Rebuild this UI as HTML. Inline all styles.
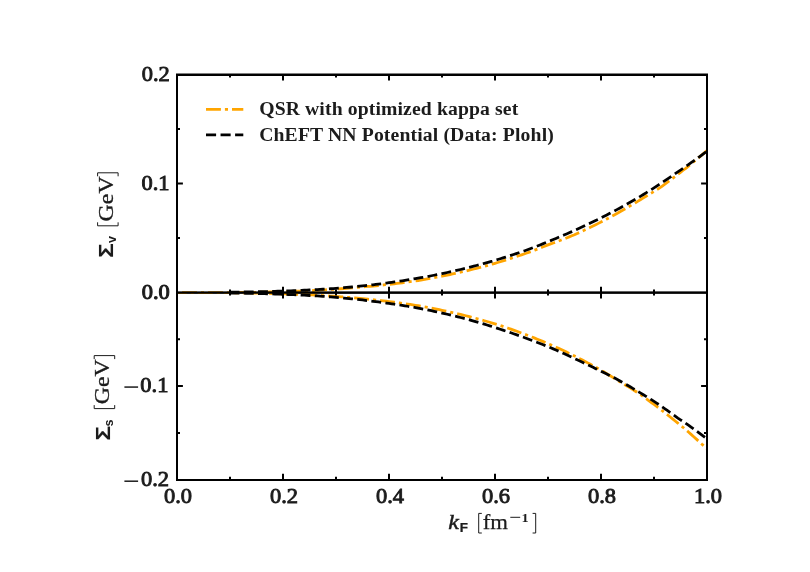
<!DOCTYPE html>
<html><head><meta charset="utf-8"><title>plot</title>
<style>
html,body{margin:0;padding:0;background:#fff;}
svg{display:block;will-change:transform;}
text{font-family:"Liberation Serif",serif;fill:#1c1c1c;}
.tk{font-weight:normal;font-size:21.2px;stroke:#1c1c1c;stroke-width:0.9px;}
.lg{font-weight:bold;font-size:19.7px;}
</style></head><body>
<svg width="810" height="572" viewBox="0 0 810 572">
<rect width="810" height="572" fill="#fff"/>
<defs>
<clipPath id="ct"><rect x="177.0" y="74.6" width="530.0" height="218.00000000000003"/></clipPath>
<clipPath id="cb"><rect x="177.0" y="292.6" width="530.0" height="187.04999999999995"/></clipPath>
</defs>

<g clip-path="url(#ct)" fill="none" stroke-width="2.78">
<path d="M177.00,292.60 L179.65,292.61 L182.30,292.61 L184.95,292.62 L187.60,292.63 L190.25,292.63 L192.90,292.64 L195.55,292.65 L198.20,292.65 L200.85,292.65 L203.50,292.65 L206.15,292.66 L208.80,292.65 L211.45,292.65 L214.10,292.65 L216.75,292.64 L219.40,292.64 L222.05,292.63 L224.70,292.62 L227.35,292.60 L230.00,292.59 L232.65,292.57 L235.30,292.55 L237.95,292.53 L240.60,292.50 L243.25,292.47 L245.90,292.44 L248.55,292.41 L251.20,292.37 L253.85,292.33 L256.50,292.29 L259.15,292.24 L261.80,292.19 L264.45,292.13 L267.10,292.07 L269.75,292.01 L272.40,291.94 L275.05,291.87 L277.70,291.79 L280.35,291.71 L283.00,291.63 L285.65,291.56 L288.30,291.48 L290.95,291.40 L293.60,291.31 L296.25,291.21 L298.90,291.12 L301.55,291.01 L304.20,290.90 L306.85,290.79 L309.50,290.67 L312.15,290.54 L314.80,290.41 L317.45,290.28 L320.10,290.13 L322.75,289.98 L325.40,289.83 L328.05,289.67 L330.70,289.50 L333.35,289.32 L336.00,289.14 L338.65,288.95 L341.30,288.76 L343.95,288.56 L346.60,288.35 L349.25,288.13 L351.90,287.91 L354.55,287.68 L357.20,287.44 L359.85,287.19 L362.50,286.94 L365.15,286.72 L367.80,286.49 L370.45,286.26 L373.10,286.01 L375.75,285.76 L378.40,285.50 L381.05,285.23 L383.70,284.95 L386.35,284.67 L389.00,284.37 L391.65,284.07 L394.30,283.76 L396.95,283.44 L399.60,283.11 L402.25,282.77 L404.90,282.42 L407.55,282.06 L410.20,281.70 L412.85,281.32 L415.50,280.93 L418.15,280.54 L420.80,280.13 L423.45,279.68 L426.10,279.21 L428.75,278.73 L431.40,278.25 L434.05,277.75 L436.70,277.24 L439.35,276.73 L442.00,276.20 L444.65,275.66 L447.30,275.11 L449.95,274.55 L452.60,273.98 L455.25,273.40 L457.90,272.81 L460.55,272.20 L463.20,271.59 L465.85,270.96 L468.50,270.33 L471.15,269.68 L473.80,269.02 L476.45,268.35 L479.10,267.67 L481.75,266.97 L484.40,266.27 L487.05,265.55 L489.70,264.82 L492.35,264.08 L495.00,263.32 L497.65,262.53 L500.30,261.73 L502.95,260.92 L505.60,260.10 L508.25,259.26 L510.90,258.41 L513.55,257.55 L516.20,256.67 L518.85,255.78 L521.50,254.88 L524.15,253.97 L526.80,253.04 L529.45,252.07 L532.10,251.08 L534.75,250.08 L537.40,249.07 L540.05,248.04 L542.70,247.00 L545.35,245.95 L548.00,244.88 L550.65,243.93 L553.30,242.96 L555.95,241.98 L558.60,240.99 L561.25,239.99 L563.90,238.97 L566.55,237.93 L569.20,236.88 L571.85,235.82 L574.50,234.75 L577.15,233.54 L579.80,232.33 L582.45,231.09 L585.10,229.85 L587.75,228.59 L590.40,227.31 L593.05,226.02 L595.70,224.72 L598.35,223.37 L601.00,222.00 L603.65,220.62 L606.30,219.22 L608.95,217.81 L611.60,216.38 L614.25,214.94 L616.90,213.48 L619.55,211.94 L622.20,210.45 L624.85,208.94 L627.50,207.41 L630.15,205.87 L632.80,204.31 L635.45,202.74 L638.10,201.15 L640.75,199.55 L643.40,197.93 L646.05,196.29 L648.70,194.69 L651.35,193.08 L654.00,191.46 L656.65,189.81 L659.30,188.15 L661.95,186.26 L664.60,184.34 L667.25,182.41 L669.90,180.47 L672.55,178.46 L675.20,176.44 L677.85,174.40 L680.50,172.34 L683.15,170.27 L685.80,168.29 L688.45,166.13 L691.10,163.96 L693.75,161.76 L696.40,159.55 L699.05,157.32 L701.70,155.08 L704.35,152.82 L707.00,150.54" stroke="#ffa500" stroke-dasharray="14.91 4.0 3.1 4.0" stroke-dashoffset="20.97"/>
<path d="M230.00,292.19 L232.65,292.16 L235.30,292.13 L237.95,292.10 L240.60,292.06 L243.25,292.02 L245.90,291.98 L248.55,291.94 L251.20,291.89 L253.85,291.84 L256.50,291.79 L259.15,291.73 L261.80,291.67 L264.45,291.60 L267.10,291.53 L269.75,291.46 L272.40,291.38 L275.05,291.30 L277.70,291.21 L280.35,291.12 L283.00,291.03 L285.65,290.95 L288.30,290.86 L290.95,290.77 L293.60,290.67 L296.25,290.57 L298.90,290.47 L301.55,290.35 L304.20,290.24 L306.85,290.11 L309.50,289.99 L312.15,289.85 L314.80,289.71 L317.45,289.57 L320.10,289.42 L322.75,289.26 L325.40,289.09 L328.05,288.92 L330.70,288.75 L333.35,288.57 L336.00,288.38 L338.65,288.16 L341.30,287.95 L343.95,287.72 L346.60,287.49 L349.25,287.25 L351.90,287.00 L354.55,286.75 L357.20,286.49 L359.85,286.22 L362.50,285.94 L365.15,285.66 L367.80,285.37 L370.45,285.07 L373.10,284.76 L375.75,284.44 L378.40,284.12 L381.05,283.78 L383.70,283.44 L386.35,283.09 L389.00,282.74 L391.65,282.37 L394.30,281.99 L396.95,281.61 L399.60,281.22 L402.25,280.81 L404.90,280.40 L407.55,279.98 L410.20,279.55 L412.85,279.11 L415.50,278.66 L418.15,278.20 L420.80,277.73 L423.45,277.26 L426.10,276.77 L428.75,276.27 L431.40,275.76 L434.05,275.24 L436.70,274.72 L439.35,274.18 L442.00,273.63 L444.65,273.07 L447.30,272.50 L449.95,271.92 L452.60,271.32 L455.25,270.72 L457.90,270.11 L460.55,269.48 L463.20,268.85 L465.85,268.20 L468.50,267.54 L471.15,266.87 L473.80,266.19 L476.45,265.50 L479.10,264.79 L481.75,264.08 L484.40,263.35 L487.05,262.61 L489.70,261.86 L492.35,261.10 L495.00,260.32 L497.65,259.53 L500.30,258.73 L502.95,257.92 L505.60,257.10 L508.25,256.26 L510.90,255.41 L513.55,254.55 L516.20,253.67 L518.85,252.78 L521.50,251.88 L524.15,250.97 L526.80,250.04 L529.45,249.05 L532.10,248.05 L534.75,247.03 L537.40,246.00 L540.05,244.96 L542.70,243.90 L545.35,242.83 L548.00,241.75 L550.65,240.65 L553.30,239.54 L555.95,238.41 L558.60,237.27 L561.25,236.17 L563.90,235.05 L566.55,233.92 L569.20,232.77 L571.85,231.61 L574.50,230.44 L577.15,229.25 L579.80,228.05 L582.45,226.83 L585.10,225.59 L587.75,224.35 L590.40,223.09 L593.05,221.81 L595.70,220.52 L598.35,219.21 L601.00,217.89 L603.65,216.55 L606.30,215.20 L608.95,213.83 L611.60,212.45 L614.25,211.05 L616.90,209.63 L619.55,208.21 L622.20,206.76 L624.85,205.30 L627.50,203.82 L630.15,202.33 L632.80,200.82 L635.45,199.30 L638.10,197.76 L640.75,196.15 L643.40,194.53 L646.05,192.88 L648.70,191.23 L651.35,189.55 L654.00,187.86 L656.65,186.14 L659.30,184.40 L661.95,182.65 L664.60,180.88 L667.25,179.09 L669.90,177.29 L672.55,175.47 L675.20,173.64 L677.85,171.82 L680.50,170.03 L683.15,168.23 L685.80,166.41 L688.45,164.57 L691.10,162.72 L693.75,160.85 L696.40,158.96 L699.05,157.06 L701.70,155.13 L704.35,153.19 L707.00,151.24" stroke="#000" stroke-dasharray="9.87 4.33" stroke-dashoffset="0.39"/>
</g>
<g stroke="#000" stroke-width="2.0" fill="none">
<path d="M230.00,292.6 v-3.0 M230.00,74.6 v3.0"/>
<path d="M283.00,292.6 v-5.9 M283.00,74.6 v5.9"/>
<path d="M336.00,292.6 v-3.0 M336.00,74.6 v3.0"/>
<path d="M389.00,292.6 v-5.9 M389.00,74.6 v5.9"/>
<path d="M442.00,292.6 v-3.0 M442.00,74.6 v3.0"/>
<path d="M495.00,292.6 v-5.9 M495.00,74.6 v5.9"/>
<path d="M548.00,292.6 v-3.0 M548.00,74.6 v3.0"/>
<path d="M601.00,292.6 v-5.9 M601.00,74.6 v5.9"/>
<path d="M654.00,292.6 v-3.0 M654.00,74.6 v3.0"/>
<path d="M177.0,183.60 h5.9 M707.0,183.60 h-5.9"/>
<path d="M177.0,129.10 h3.0 M707.0,129.10 h-3.0"/>
<path d="M177.0,238.10 h3.0 M707.0,238.10 h-3.0"/>
</g>
<path d="M177.0,74 V293.44000000000005 M707.0,74 V293.44000000000005 M176.0,292.40000000000003 H708.0" fill="none" stroke="#000" stroke-width="2"/><path d="M176.0,74.8 H708.0" fill="none" stroke="#000" stroke-width="2.4"/>
<g clip-path="url(#cb)" fill="none" stroke-width="2.78">
<path d="M177.00,292.60 L179.65,292.60 L182.30,292.59 L184.95,292.59 L187.60,292.58 L190.25,292.58 L192.90,292.58 L195.55,292.58 L198.20,292.58 L200.85,292.58 L203.50,292.58 L206.15,292.58 L208.80,292.59 L211.45,292.60 L214.10,292.60 L216.75,292.62 L219.40,292.63 L222.05,292.64 L224.70,292.66 L227.35,292.68 L230.00,292.70 L232.65,292.72 L235.30,292.75 L237.95,292.78 L240.60,292.81 L243.25,292.85 L245.90,292.89 L248.55,292.93 L251.20,292.98 L253.85,293.03 L256.50,293.08 L259.15,293.14 L261.80,293.20 L264.45,293.27 L267.10,293.34 L269.75,293.42 L272.40,293.50 L275.05,293.58 L277.70,293.67 L280.35,293.76 L283.00,293.86 L285.65,293.93 L288.30,294.01 L290.95,294.09 L293.60,294.18 L296.25,294.27 L298.90,294.37 L301.55,294.47 L304.20,294.58 L306.85,294.70 L309.50,294.82 L312.15,294.95 L314.80,295.08 L317.45,295.23 L320.10,295.37 L322.75,295.53 L325.40,295.69 L328.05,295.86 L330.70,296.03 L333.35,296.21 L336.00,296.40 L338.65,296.60 L341.30,296.80 L343.95,297.01 L346.60,297.23 L349.25,297.46 L351.90,297.69 L354.55,297.93 L357.20,298.18 L359.85,298.44 L362.50,298.71 L365.15,298.95 L367.80,299.21 L370.45,299.47 L373.10,299.74 L375.75,300.02 L378.40,300.31 L381.05,300.61 L383.70,300.91 L386.35,301.23 L389.00,301.55 L391.65,301.89 L394.30,302.23 L396.95,302.58 L399.60,302.94 L402.25,303.32 L404.90,303.70 L407.55,304.09 L410.20,304.49 L412.85,304.90 L415.50,305.32 L418.15,305.73 L420.80,306.15 L423.45,306.63 L426.10,307.12 L428.75,307.62 L431.40,308.13 L434.05,308.65 L436.70,309.19 L439.35,309.73 L442.00,310.28 L444.65,310.85 L447.30,311.42 L449.95,312.01 L452.60,312.61 L455.25,313.21 L457.90,313.83 L460.55,314.46 L463.20,315.11 L465.85,315.76 L468.50,316.42 L471.15,317.12 L473.80,317.82 L476.45,318.53 L479.10,319.26 L481.75,320.00 L484.40,320.75 L487.05,321.51 L489.70,322.28 L492.35,323.07 L495.00,323.87 L497.65,324.68 L500.30,325.50 L502.95,326.39 L505.60,327.30 L508.25,328.22 L510.90,329.15 L513.55,330.10 L516.20,331.06 L518.85,332.03 L521.50,333.01 L524.15,334.00 L526.80,335.01 L529.45,336.03 L532.10,337.07 L534.75,338.12 L537.40,339.18 L540.05,340.25 L542.70,341.37 L545.35,342.50 L548.00,343.64 L550.65,344.80 L553.30,345.97 L555.95,347.16 L558.60,348.35 L561.25,349.59 L563.90,350.85 L566.55,352.12 L569.20,353.40 L571.85,354.69 L574.50,356.00 L577.15,357.32 L579.80,358.66 L582.45,360.04 L585.10,361.45 L587.75,362.86 L590.40,364.29 L593.05,365.73 L595.70,367.19 L598.35,368.66 L601.00,370.15 L603.65,371.74 L606.30,373.34 L608.95,374.96 L611.60,376.60 L614.25,378.24 L616.90,379.91 L619.55,381.58 L622.20,383.13 L624.85,384.68 L627.50,386.25 L630.15,387.90 L632.80,389.57 L635.45,391.25 L638.10,392.95 L640.75,394.75 L643.40,396.72 L646.05,398.64 L648.70,400.57 L651.35,402.52 L654.00,404.48 L656.65,406.46 L659.30,408.45 L661.95,410.51 L664.60,412.58 L667.25,414.67 L669.90,416.77 L672.55,418.89 L675.20,421.02 L677.85,423.17 L680.50,425.33 L683.15,427.48 L685.80,429.65 L688.45,432.00 L691.10,434.36 L693.75,436.74 L696.40,439.13 L699.05,441.54 L701.70,443.97 L704.35,446.29 L707.00,448.63" stroke="#ffa500" stroke-dasharray="14.94 4.01 3.11 4.01" stroke-dashoffset="5.2"/>
<path d="M230.00,293.03 L232.65,293.06 L235.30,293.10 L237.95,293.13 L240.60,293.17 L243.25,293.22 L245.90,293.26 L248.55,293.31 L251.20,293.37 L253.85,293.42 L256.50,293.48 L259.15,293.55 L261.80,293.62 L264.45,293.69 L267.10,293.77 L269.75,293.85 L272.40,293.94 L275.05,294.03 L277.70,294.12 L280.35,294.22 L283.00,294.33 L285.65,294.42 L288.30,294.52 L290.95,294.62 L293.60,294.73 L296.25,294.85 L298.90,294.97 L301.55,295.09 L304.20,295.22 L306.85,295.36 L309.50,295.50 L312.15,295.65 L314.80,295.81 L317.45,295.97 L320.10,296.14 L322.75,296.32 L325.40,296.50 L328.05,296.69 L330.70,296.89 L333.35,297.09 L336.00,297.30 L338.65,297.53 L341.30,297.78 L343.95,298.02 L346.60,298.28 L349.25,298.54 L351.90,298.81 L354.55,299.09 L357.20,299.38 L359.85,299.67 L362.50,299.97 L365.15,300.29 L367.80,300.60 L370.45,300.93 L373.10,301.27 L375.75,301.61 L378.40,301.97 L381.05,302.33 L383.70,302.70 L386.35,303.08 L389.00,303.47 L391.65,303.84 L394.30,304.22 L396.95,304.60 L399.60,305.00 L402.25,305.41 L404.90,305.82 L407.55,306.25 L410.20,306.68 L412.85,307.13 L415.50,307.58 L418.15,308.08 L420.80,308.59 L423.45,309.11 L426.10,309.64 L428.75,310.18 L431.40,310.73 L434.05,311.29 L436.70,311.87 L439.35,312.45 L442.00,313.04 L444.65,313.65 L447.30,314.26 L449.95,314.89 L452.60,315.53 L455.25,316.17 L457.90,316.83 L460.55,317.50 L463.20,318.19 L465.85,318.88 L468.50,319.58 L471.15,320.32 L473.80,321.08 L476.45,321.84 L479.10,322.61 L481.75,323.40 L484.40,324.20 L487.05,325.01 L489.70,325.83 L492.35,326.67 L495.00,327.51 L497.65,328.37 L500.30,329.24 L502.95,330.13 L505.60,331.02 L508.25,331.91 L510.90,332.80 L513.55,333.71 L516.20,334.64 L518.85,335.57 L521.50,336.52 L524.15,337.48 L526.80,338.45 L529.45,339.44 L532.10,340.44 L534.75,341.45 L537.40,342.48 L540.05,343.51 L542.70,344.57 L545.35,345.63 L548.00,346.71 L550.65,347.80 L553.30,348.90 L555.95,350.02 L558.60,351.15 L561.25,352.36 L563.90,353.58 L566.55,354.82 L569.20,356.06 L571.85,357.32 L574.50,358.60 L577.15,359.81 L579.80,361.03 L582.45,362.27 L585.10,363.52 L587.75,364.79 L590.40,366.07 L593.05,367.36 L595.70,368.67 L598.35,369.94 L601.00,371.22 L603.65,372.52 L606.30,373.84 L608.95,375.16 L611.60,376.51 L614.25,377.86 L616.90,379.24 L619.55,380.72 L622.20,382.22 L624.85,383.74 L627.50,385.26 L630.15,386.81 L632.80,388.37 L635.45,389.94 L638.10,391.53 L640.75,393.12 L643.40,394.74 L646.05,396.36 L648.70,398.01 L651.35,399.66 L654.00,401.33 L656.65,403.12 L659.30,404.91 L661.95,406.73 L664.60,408.56 L667.25,410.41 L669.90,412.30 L672.55,414.20 L675.20,416.11 L677.85,418.04 L680.50,419.81 L683.15,421.59 L685.80,423.38 L688.45,425.19 L691.10,427.09 L693.75,429.02 L696.40,430.97 L699.05,432.94 L701.70,434.92 L704.35,436.92 L707.00,438.93" stroke="#000" stroke-dasharray="9.87 4.33" stroke-dashoffset="0.34"/>
</g>
<g stroke="#000" stroke-width="2.0" fill="none">
<path d="M230.00,479.65 v-3.0 M230.00,292.6 v3.0"/>
<path d="M283.00,479.65 v-5.9 M283.00,292.6 v5.9"/>
<path d="M336.00,479.65 v-3.0 M336.00,292.6 v3.0"/>
<path d="M389.00,479.65 v-5.9 M389.00,292.6 v5.9"/>
<path d="M442.00,479.65 v-3.0 M442.00,292.6 v3.0"/>
<path d="M495.00,479.65 v-5.9 M495.00,292.6 v5.9"/>
<path d="M548.00,479.65 v-3.0 M548.00,292.6 v3.0"/>
<path d="M601.00,479.65 v-5.9 M601.00,292.6 v5.9"/>
<path d="M654.00,479.65 v-3.0 M654.00,292.6 v3.0"/>
<path d="M177.0,386.12 h5.9 M707.0,386.12 h-5.9"/>
<path d="M177.0,339.36 h3.0 M707.0,339.36 h-3.0"/>
<path d="M177.0,432.89 h3.0 M707.0,432.89 h-3.0"/>
</g>
<path d="M177.0,291.81 V481 M707.0,291.81 V481 M176.0,292.85 H708.0 M176.0,480 H708.0" fill="none" stroke="#000" stroke-width="2"/>
<path d="M206,109.4 H243.3" stroke="#ffa500" stroke-width="2.78" stroke-dasharray="14.9 4.0 3.1 4.0" fill="none"/>
<path d="M206,134.9 H243.3" stroke="#000" stroke-width="2.78" stroke-dasharray="10.1 4.45" fill="none"/>
<text class="lg" x="259.2" y="115.0" textLength="259" lengthAdjust="spacing">QSR with optimized kappa set</text>
<text class="lg" x="259.2" y="140.5" textLength="294.6" lengthAdjust="spacing">ChEFT NN Potential (Data: Plohl)</text>
<text class="tk" transform="translate(169.8,80.70) scale(1.06,1)" text-anchor="end">0.2</text>
<text class="tk" transform="translate(169.5,189.70) scale(1.06,1)" text-anchor="end">0.1</text>
<text class="tk" style="stroke-width:1.05px" transform="translate(169.8,298.90) scale(1.06,1)" text-anchor="end">0.0</text>
<path d="M124.4,387.07 H138.1" stroke="#1c1c1c" stroke-width="1.5" fill="none"/><text class="tk" transform="translate(168.4,391.82) scale(1.06,1)" text-anchor="end">0.1</text>
<path d="M124.4,481.20 H138.1" stroke="#1c1c1c" stroke-width="1.5" fill="none"/><text class="tk" transform="translate(169.0,485.95) scale(1.06,1)" text-anchor="end">0.2</text>
<text class="tk" transform="translate(178.00,502.8) scale(1.06,1)" text-anchor="middle">0.0</text>
<text class="tk" transform="translate(284.00,502.8) scale(1.06,1)" text-anchor="middle">0.2</text>
<text class="tk" transform="translate(390.00,502.8) scale(1.06,1)" text-anchor="middle">0.4</text>
<text class="tk" transform="translate(496.00,502.8) scale(1.06,1)" text-anchor="middle">0.6</text>
<text class="tk" transform="translate(602.00,502.8) scale(1.06,1)" text-anchor="middle">0.8</text>
<text class="tk" transform="translate(708.00,502.8) scale(1.06,1)" text-anchor="middle">1.0</text>
<text transform="translate(448.2,528.5) scale(1.14,1)" style="font-style:italic;font-size:21px;stroke:#1c1c1c;stroke-width:0.45px">k</text>
<text transform="translate(459.7,531.5) scale(1.12,1)" style="font-family:'Liberation Sans',sans-serif;font-weight:bold;font-size:12px;stroke:#1c1c1c;stroke-width:0.25px">F</text>
<path d="M481.8,513.4 H478.7 V533.0 H481.8 M532.6,513.4 H535.7 V533.0 H532.6" stroke="#1c1c1c" stroke-width="1.0" fill="none"/>
<text x="482.8" y="528.5" style="font-size:21px;stroke:#1c1c1c;stroke-width:0.25px" textLength="25.2" lengthAdjust="spacingAndGlyphs">fm</text>
<path d="M510.3,517.3 H520.2" stroke="#1c1c1c" stroke-width="1.0" fill="none"/>
<text transform="translate(521.5,522.3) scale(1.15,1)" style="font-size:12.5px;font-weight:bold">1</text>
<g transform="translate(113.4,257.7) rotate(-90)"><text transform="scale(1.2,1.04)" x="0" y="0" style="font-family:'Liberation Sans',sans-serif;font-weight:bold;font-size:20px;stroke:#1c1c1c;stroke-width:0.1px">Σ</text><text x="14.7" y="2.7" style="font-family:'Liberation Sans',sans-serif;font-weight:bold;font-size:12.5px">v</text><text x="36.3" y="-0.7" style="font-size:21.8px;stroke:#1c1c1c;stroke-width:0.3px" textLength="45" lengthAdjust="spacingAndGlyphs">GeV</text></g><path d="M97.60000000000001,222.29999999999998 V225.79999999999998 H118.10000000000001 V222.29999999999998 M97.60000000000001,176.29999999999998 V172.79999999999998 H118.10000000000001 V176.29999999999998" stroke="#1c1c1c" stroke-width="1.0" fill="none"/>
<g transform="translate(110.0,440.5) rotate(-90)"><text transform="scale(1.2,1.04)" x="0" y="0" style="font-family:'Liberation Sans',sans-serif;font-weight:bold;font-size:20px;stroke:#1c1c1c;stroke-width:0.1px">Σ</text><text x="13.9" y="2.6" style="font-family:'Liberation Sans',sans-serif;font-weight:bold;font-size:12.5px">s</text><text x="36.3" y="-0.7" style="font-size:21.8px;stroke:#1c1c1c;stroke-width:0.3px" textLength="45" lengthAdjust="spacingAndGlyphs">GeV</text></g><path d="M94.2,405.1 V408.6 H114.7 V405.1 M94.2,359.1 V355.6 H114.7 V359.1" stroke="#1c1c1c" stroke-width="1.0" fill="none"/>
</svg></body></html>
